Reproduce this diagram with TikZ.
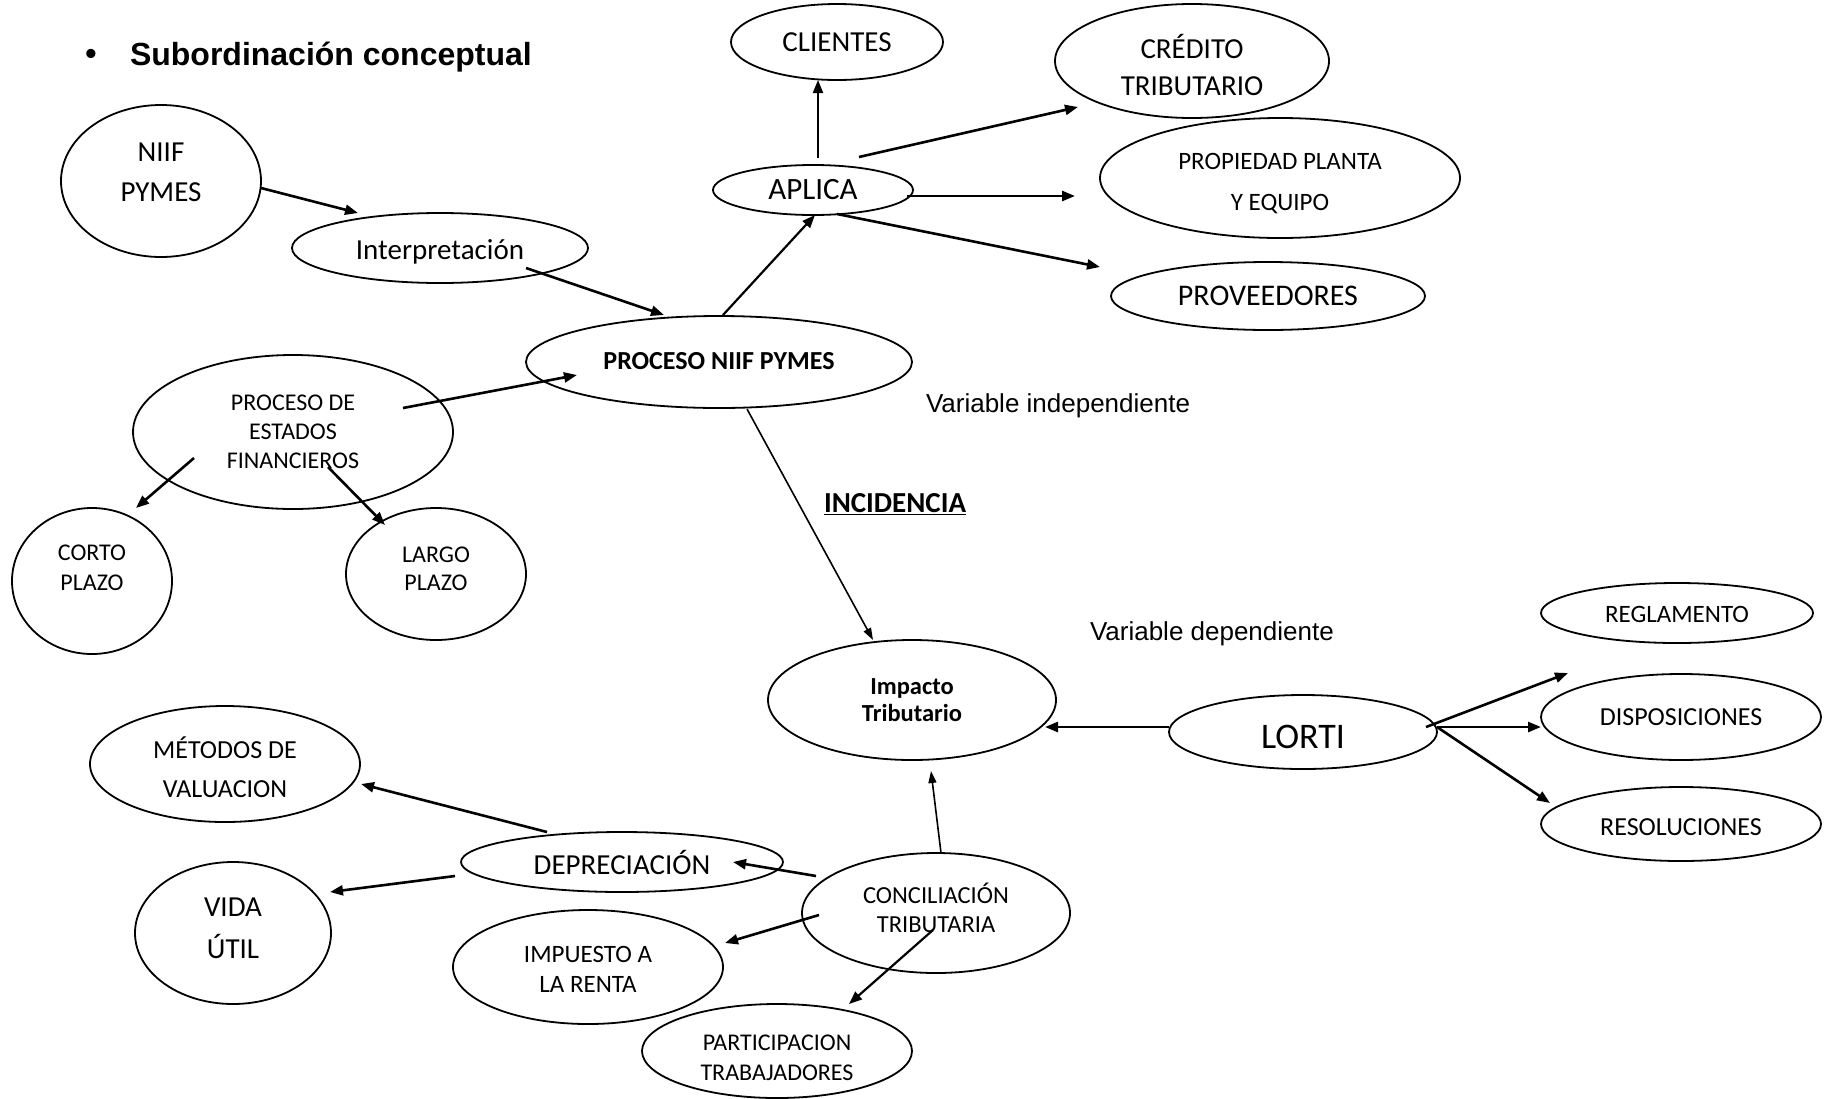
\documentclass[tikz,border=0pt]{standalone}
\usepackage{fontspec}
\setmainfont{Carlito}
\newfontfamily\arialf{Liberation Sans}
\usetikzlibrary{shapes.geometric,arrows.meta,calc}
\newcommand{\myfs}[2]{\fontsize{#1}{#2}\selectfont}
\begin{document}
\begin{tikzpicture}[x=1pt,y=-1pt,
  ell/.style={draw,ellipse,line width=1.8pt,inner sep=0pt,outer sep=0pt},
  lab/.style={align=center,inner sep=0pt,outer sep=0pt},
  arr/.style={line width=2.6pt,-{Triangle[length=13pt,width=10pt]}},
  tarr/.style={line width=1.6pt,-{Triangle[length=12pt,width=8pt]}},
  lbl/.style={inner sep=0pt,outer sep=0pt,anchor=west}
]
\useasboundingbox[fill=white] (0,0) rectangle (1827,1098);

% title
\node[inner sep=0pt,font={\arialf\bfseries\myfs{32}{36}}] (bul) at (91,57) {•};
\node[lbl,font={\arialf\bfseries\myfs{32}{36}}] (title) at (130,57) {Subordinación conceptual};

% nodes
\node[ell,minimum width=200pt,minimum height=152pt,
  label={[lab,font={\myfs{29}{40}},yshift=9pt]center:{NIIF\\PYMES}}] (niif) at (161,181) {};
\node[ell,minimum width=296pt,minimum height=70pt,
  label={[lab,font={\myfs{29}{34}},yshift=-3.5pt]center:{Interpretación}}] (interp) at (440,248) {};
\node[ell,minimum width=320pt,minimum height=154pt,
  label={[lab,font={\myfs{24}{29}}]center:{PROCESO DE\\ESTADOS\\FINANCIEROS}}] (pef) at (293,432) {};
\node[ell,minimum width=160pt,minimum height=146pt,
  label={[lab,font={\myfs{24}{30}},yshift=13pt]center:{CORTO\\PLAZO}}] (corto) at (92,581) {};
\node[ell,minimum width=180pt,minimum height=132pt,
  label={[lab,font={\myfs{24}{28}},yshift=5pt]center:{LARGO\\PLAZO}}] (largo) at (436,574) {};
\node[ell,minimum width=386pt,minimum height=92pt,
  label={[lab,font={\myfs{26}{30}\bfseries},yshift=1pt]center:{PROCESO NIIF PYMES}}] (pniif) at (719,362) {};
\node[ell,minimum width=200pt,minimum height=50pt,
  label={[lab,font={\myfs{31}{36}}]center:{APLICA}}] (aplica) at (813,190) {};
\node[ell,minimum width=212pt,minimum height=76pt,
  label={[lab,font={\myfs{29}{34}}]center:{CLIENTES}}] (clientes) at (837,42) {};
\node[ell,minimum width=274pt,minimum height=114pt,
  label={[lab,font={\myfs{29}{37}},yshift=-4pt]center:{CRÉDITO\\TRIBUTARIO}}] (credito) at (1192,61) {};
\node[ell,minimum width=360pt,minimum height=120pt,
  label={[lab,font={\myfs{25}{41}},yshift=-6pt]center:{PROPIEDAD PLANTA\\Y EQUIPO}}] (propiedad) at (1280,178) {};
\node[ell,minimum width=314pt,minimum height=68pt,
  label={[lab,font={\myfs{30}{34}}]center:{PROVEEDORES}}] (proveedores) at (1268,296) {};

\node[lbl,font={\arialf\myfs{26}{30}}] (varind) at (926,405.5) {Variable independiente};
\node[lbl,font={\myfs{29}{34}\bfseries}] (incid) at (824,504) {\underline{INCIDENCIA}};
\node[lbl,font={\arialf\myfs{26}{30}}] (vardep) at (1090,634) {Variable dependiente};

\node[ell,minimum width=288pt,minimum height=120pt,
  label={[lab,font={\myfs{24.5}{27}\bfseries}]center:{Impacto\\Tributario}}] (impacto) at (912,700) {};
\node[ell,minimum width=268pt,minimum height=74pt,
  label={[lab,font={\myfs{36}{40}},yshift=-4.5pt]center:{LORTI}}] (lorti) at (1303,732) {};
\node[ell,minimum width=272pt,minimum height=60pt,
  label={[lab,font={\myfs{25}{30}},yshift=-1.5pt]center:{REGLAMENTO}}] (reglamento) at (1677,613) {};
\node[ell,minimum width=280pt,minimum height=86pt,
  label={[lab,font={\myfs{26}{30}}]center:{DISPOSICIONES}}] (disposiciones) at (1681,717) {};
\node[ell,minimum width=280pt,minimum height=74pt,
  label={[lab,font={\myfs{26}{30}},yshift=-3.5pt]center:{RESOLUCIONES}}] (resoluciones) at (1681,824) {};

\node[ell,minimum width=270pt,minimum height=116pt,
  label={[lab,font={\myfs{26}{39}},yshift=-3.5pt]center:{MÉTODOS DE\\VALUACION}}] (metodos) at (225,764) {};
\node[ell,minimum width=322pt,minimum height=60pt,
  label={[lab,font={\myfs{29}{34}}]center:{DEPRECIACIÓN}}] (deprec) at (622,862) {};
\node[ell,minimum width=196pt,minimum height=142pt,
  label={[lab,font={\myfs{29}{42}},yshift=4.5pt]center:{VIDA\\ÚTIL}}] (vida) at (233,933) {};
\node[ell,minimum width=270pt,minimum height=114pt,
  label={[lab,font={\myfs{25}{30}},yshift=-2pt]center:{IMPUESTO A\\LA RENTA}}] (impuesto) at (588,967) {};
\node[ell,minimum width=268pt,minimum height=120pt,
  label={[lab,font={\myfs{24.5}{29}},yshift=5pt]center:{CONCILIACIÓN\\TRIBUTARIA}}] (concil) at (936,913) {};
\node[ell,minimum width=270pt,minimum height=94pt,
  label={[lab,font={\myfs{24}{30}},yshift=-7pt]center:{PARTICIPACION\\TRABAJADORES}}] (particip) at (777,1051) {};

% connectors
\draw[arr] ($(niif)+(100,7)$) -- ($(interp)+(-82,-35)$);
\draw[arr] ($(interp)+(86,20)$) -- ($(pniif)+(-55,-47)$);
\draw[arr] ($(pef)+(110,-24)$) -- ($(pniif)+(-142,13)$);
\draw[arr] ($(pef)+(-99,26)$) -- ($(corto)+(44,-73)$);
\draw[arr] ($(pef)+(35,35)$) -- ($(largo)+(-51,-49)$);
\draw[arr,line width=2.2pt] ($(pniif)+(4,-47)$) -- ($(aplica)+(2,25)$);
\draw[arr,line width=2.2pt] ($(aplica)+(5,-32)$) -- ($(clientes)+(-19,38)$);
\draw[arr] ($(aplica)+(46,-33)$) -- ($(credito)+(-114,46)$);
\draw[arr] ($(aplica)+(94,6)$) -- ($(propiedad)+(-205,18)$);
\draw[arr] ($(aplica)+(24,24)$) -- ($(proveedores)+(-168,-29)$);
\draw[tarr] ($(pniif)+(28,47)$) -- ($(impacto)+(-39,-60)$);
\draw[arr] ($(lorti)+(-134,-5)$) -- ($(impacto)+(133,27)$);
\draw[arr] ($(lorti)+(123,-5)$) -- ($(reglamento)+(-109,60)$);
\draw[arr] ($(lorti)+(134,-5)$) -- ($(disposiciones)+(-140,10)$);
\draw[arr] ($(lorti)+(134,-5)$) -- ($(resoluciones)+(-131,-21)$);
\draw[tarr] ($(concil)+(5,-60)$) -- ($(impacto)+(19,71)$);
\draw[arr] ($(deprec)+(-75,-30)$) -- ($(metodos)+(136,20)$);
\draw[arr] ($(deprec)+(-167,14)$) -- ($(vida)+(97,-41)$);
\draw[arr] ($(concil)+(-120,-37)$) -- ($(deprec)+(111,0)$);
\draw[arr] ($(concil)+(-117,2)$) -- ($(impuesto)+(137,-24)$);
\draw[arr,line width=2.2pt] ($(concil)+(-3,17)$) -- ($(particip)+(72,-47)$);
\end{tikzpicture}
\end{document}
